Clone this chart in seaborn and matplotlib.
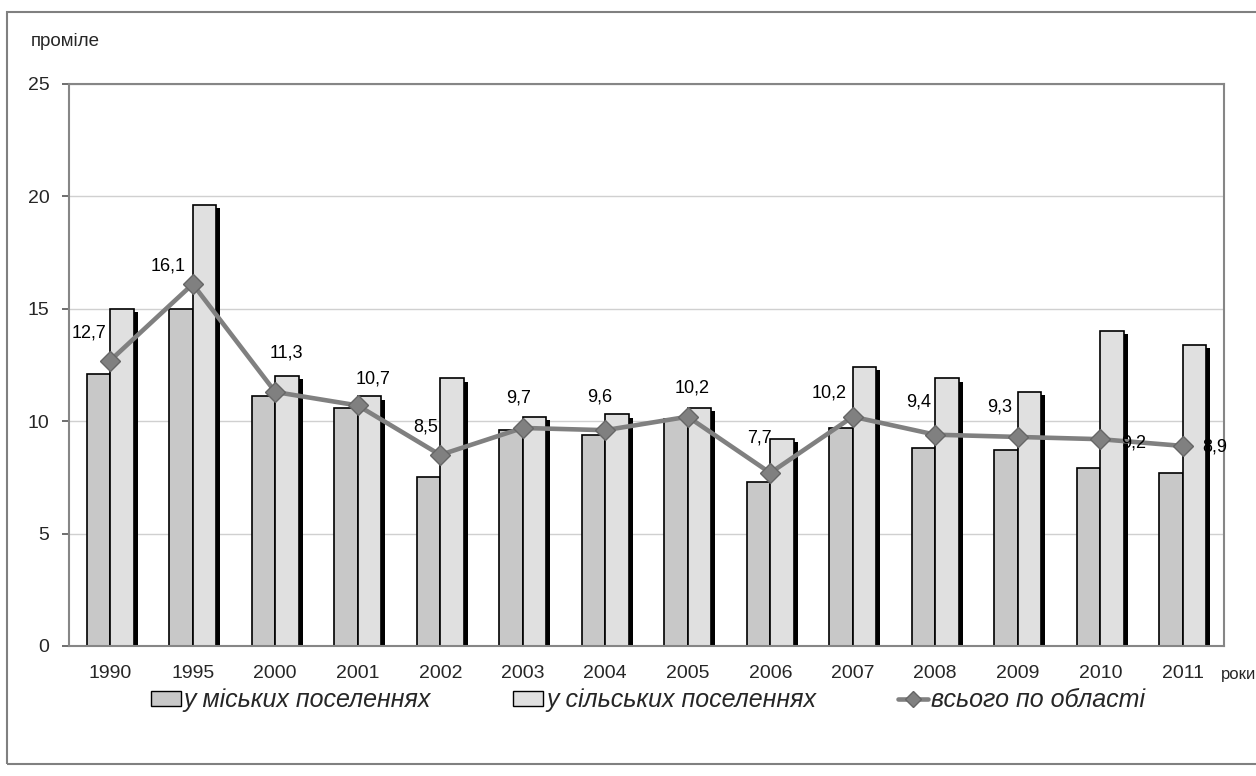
import numpy as np
import pandas as pd
import matplotlib
matplotlib.use("Agg")
import matplotlib.pyplot as plt
import matplotlib.patheffects as pe
from matplotlib.patches import Patch, Rectangle
from matplotlib.lines import Line2D
import seaborn as sns

# ---- data ----
years = ['1990', '1995', '2000', '2001', '2002', '2003', '2004',
         '2005', '2006', '2007', '2008', '2009', '2010', '2011']
urban = [12.1, 15.0, 11.1, 10.6, 7.5, 9.6, 9.4, 10.1, 7.3, 9.7, 8.8, 8.7, 7.9, 7.7]
rural = [15.0, 19.6, 12.0, 11.1, 11.9, 10.2, 10.3, 10.6, 9.2, 12.4, 11.9, 11.3, 14.0, 13.4]
total = [12.7, 16.1, 11.3, 10.7, 8.5, 9.7, 9.6, 10.2, 7.7, 10.2, 9.4, 9.3, 9.2, 8.9]
total_labels = ['12,7', '16,1', '11,3', '10,7', '8,5', '9,7', '9,6',
                '10,2', '7,7', '10,2', '9,4', '9,3', '9,2', '8,9']
series_names = ['у міських поселеннях', 'у сільських поселеннях', 'всього по області']
y_ticks = [0, 5, 10, 15, 20, 25]
y_title = 'проміле'
x_title = 'роки'

# label placement (pixel offsets from marker)
label_offsets = [(-21, 28), (-25, 18), (11, 39), (15, 26), (-15, 28), (-4, 30), (-6, 33),
                 (4, 29), (-11, 35), (-24, 24), (-17, 33), (-18, 30), (33, -4), (32, -1)]

c_urban = '#c8c8c8'
c_rural = '#e0e0e0'
c_line = '#808080'
c_frame = '#868686'

sns.set_style('white')
plt.rcParams['font.family'] = ['Liberation Sans', 'DejaVu Sans']

df = pd.DataFrame({
    'year': years * 2,
    'value': urban + rural,
    'type': [series_names[0]] * len(years) + [series_names[1]] * len(years),
})

W, H = 1256, 776
fig = plt.figure(figsize=(W / 100, H / 100), dpi=100)
ax = fig.add_axes([69 / W, 1 - 646 / H, (1224 - 69) / W, (646 - 84) / H])

sns.barplot(data=df, x='year', y='value', hue='type', order=years,
            hue_order=series_names[:2], palette=[c_urban, c_rural],
            saturation=1, width=0.57, edgecolor='black', linewidth=1.2,
            legend=False, ax=ax, zorder=2)
for p in ax.patches:
    p.set_path_effects([pe.SimplePatchShadow(offset=(2.9, -2.2), shadow_rgbFace='black', alpha=1),
                        pe.Normal()])

sns.pointplot(x=years, y=total, order=years, ax=ax, color=c_line, markers='D',
              markersize=10, linewidth=3.3, errorbar=None,
              markeredgecolor='#666666', markeredgewidth=1.0, zorder=4)

for i, (v, lab) in enumerate(zip(total, total_labels)):
    dx, dy = label_offsets[i]
    ax.annotate(lab, (i, v), xytext=(dx, dy), textcoords='offset pixels',
                ha='center', va='center', fontsize=13, color='black', zorder=5)

ax.set_xlim(-0.5, len(years) - 0.5)
ax.set_ylim(0, 25)
ax.set_yticks(y_ticks)
ax.set_yticklabels([str(t) for t in y_ticks])
ax.set_xlabel('')
ax.set_ylabel('')
ax.yaxis.grid(True, color='#d0d0d0', linewidth=1.0, zorder=0)
ax.set_axisbelow(True)
for s in ax.spines.values():
    s.set_visible(True)
    s.set_color(c_frame)
    s.set_linewidth(1.5)

ax.set_xticks(np.arange(-0.5, len(years), 1), minor=True)
ax.tick_params(axis='x', which='major', length=0, pad=14, labelsize=14)
ax.tick_params(axis='x', which='minor', length=5, width=1.2, color='#555555', direction='out')
ax.tick_params(axis='y', which='major', length=5, width=1.2, color='#555555',
               direction='out', pad=9, labelsize=14, left=True)

fig.text(31 / W, 1 - 42 / H, y_title, ha='left', va='center', fontsize=13.5)
fig.text(1221 / W, 1 - 675 / H, x_title, ha='left', va='center', fontsize=12)

handles = [Patch(facecolor=c_urban, edgecolor='black', linewidth=1.0),
           Patch(facecolor=c_rural, edgecolor='black', linewidth=1.0),
           Line2D([0], [0], color=c_line, linewidth=3.3, marker='D', markersize=8,
                  markeredgecolor='#666666')]
fig.legend(handles, series_names, loc='center', bbox_to_anchor=(648 / W, 1 - 700 / H),
           ncol=3, frameon=False, prop={'style': 'italic', 'size': 18},
           handlelength=1.2, handleheight=0.55, handletextpad=0.1, columnspacing=3.3)

fig.patches.append(Rectangle((7 / W, 1 - 764 / H), 1.2, (764 - 12) / H,
                             transform=fig.transFigure, facecolor='none',
                             edgecolor='#808080', linewidth=1.5, clip_on=False))

fig.savefig('out.png', dpi=100)
